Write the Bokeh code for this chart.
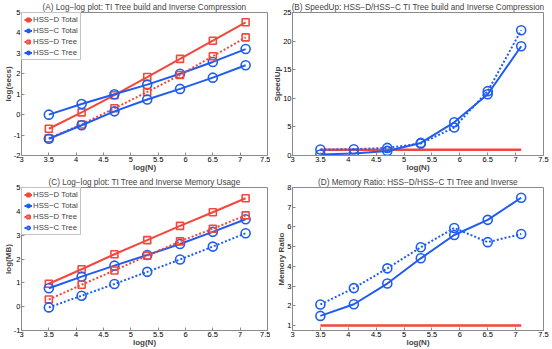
from bokeh.plotting import figure
from bokeh.models import Range1d, FixedTicker
from bokeh.layouts import gridplot
from bokeh.embed import file_html
from bokeh.resources import INLINE

# ---------------- data ----------------
logN = [3.5, 4.1, 4.7, 5.3, 5.9, 6.5, 7.1]
x_ticks = [3, 3.5, 4, 4.5, 5, 5.5, 6, 6.5, 7, 7.5]
x_tick_labels = ["3", "3.5", "4", "4.5", "5", "5.5", "6", "6.5", "7", "7.5"]

# (A) log(secs)
a_d_total = [-0.69, 0.11, 0.95, 1.84, 2.73, 3.62, 4.52]
a_c_total = [0.0, 0.52, 1.0, 1.47, 2.0, 2.58, 3.21]
a_d_tree = [-1.16, -0.48, 0.31, 1.11, 1.94, 2.86, 3.78]
a_c_tree = [-1.18, -0.52, 0.16, 0.74, 1.26, 1.81, 2.42]
a_yticks = [-2, -1, 0, 1, 2, 3, 4, 5]
a_ylabels = ["-2", "-1", "0", "1", "2", "3", "4", "5"]

# (B) speedup
b_total = [0.17, 0.35, 0.8, 2.2, 5.8, 10.7, 19.1]
b_tree = [1.04, 1.1, 1.33, 2.1, 4.9, 11.25, 21.9]
b_ref = [1, 1, 1, 1, 1, 1, 1]
b_yticks = [0, 5, 10, 15, 20, 25]
b_ylabels = ["0", "5", "10", "15", "20", "25"]

# (C) log(MB)
c_d_total = [0.96, 1.57, 2.2, 2.79, 3.39, 3.96, 4.55]
c_c_total = [0.77, 1.26, 1.72, 2.17, 2.63, 3.14, 3.67]
c_d_tree = [0.3, 0.92, 1.52, 2.14, 2.74, 3.27, 3.83]
c_c_tree = [-0.03, 0.46, 0.95, 1.46, 1.98, 2.52, 3.08]
c_yticks = [-1, 0, 1, 2, 3, 4, 5]
c_ylabels = ["-1", "0", "1", "2", "3", "4", "5"]

# (D) memory ratio
d_total = [1.49, 2.08, 3.13, 4.41, 5.59, 6.36, 7.48]
d_tree = [2.07, 2.9, 3.9, 4.97, 5.95, 5.23, 5.64]
d_ref = [1, 1, 1, 1, 1, 1, 1]
d_yticks = [1, 2, 3, 4, 5, 6, 7, 8]
d_ylabels = ["1", "2", "3", "4", "5", "6", "7", "8"]

RED = "#F4473C"
BLUE = "#1F5CF0"
FRAME = "#8a8a8a"
FONT = "Liberation Sans"


def make(title, ylabel, yr, yticks, ylabels, w, h, ml, mr, mt, mb):
    p = figure(width=w, height=h, x_range=Range1d(3, 7.5), y_range=Range1d(*yr),
               output_backend="svg", toolbar_location=None, title=title,
               min_border_left=ml, min_border_right=mr,
               min_border_top=mt, min_border_bottom=mb)
    p.title.text_font = FONT
    p.title.text_font_size = "8.2px"
    p.title.text_font_style = "normal"
    p.title.align = "center"
    p.title.standoff = 1
    p.grid.visible = False
    p.outline_line_color = FRAME
    p.outline_line_width = 1
    p.outline_line_alpha = 1
    p.xaxis.ticker = FixedTicker(ticks=x_ticks)
    p.xaxis.major_label_overrides = dict(zip(x_ticks, x_tick_labels))
    p.yaxis.ticker = FixedTicker(ticks=yticks)
    p.yaxis.major_label_overrides = dict(zip(yticks, ylabels))
    for ax in (p.xaxis, p.yaxis):
        ax.axis_line_color = FRAME
        ax.major_tick_in = 3
        ax.major_tick_out = 0
        ax.major_tick_line_color = FRAME
        ax.minor_tick_line_color = None
        ax.major_label_text_font = FONT
        ax.major_label_text_font_size = "7.5px"
        ax.major_label_text_color = "black"
        ax.major_label_standoff = 1
        ax.axis_label_text_font = FONT
        ax.axis_label_text_font_size = "8px"
        ax.axis_label_text_font_style = "bold"
        ax.axis_label_standoff = -2
    p.xaxis.axis_label = "log(N)"
    p.yaxis.axis_label = ylabel
    return p


def series(p, x, y, color, marker, dash, label=None):
    kw = {"legend_label": label} if label else {}
    p.line(x, y, line_color=color, line_width=2, line_dash=dash, **kw)
    size = 7 if marker == "square" else 9
    p.scatter(x, y, marker=marker, size=size, line_color=color, fill_color=None,
              line_width=1.6, **kw)


def style_legend(p):
    lg = p.legend[0]
    lg.location = "top_left"
    lg.margin = 0
    lg.padding = 2
    lg.spacing = 2
    lg.glyph_width = 8
    lg.glyph_height = 9
    lg.label_height = 9
    lg.label_standoff = 1
    lg.label_text_font = FONT
    lg.label_text_font_size = "7.8px"
    lg.border_line_color = FRAME
    lg.border_line_width = 1
    lg.background_fill_alpha = 1


W1, W2 = 270, 282
H1, H2 = 174, 175

pA = make("(A) Log\u2212log plot: TI Tree build and Inverse Compression", "log(secs)",
          (-2, 5), a_yticks, a_ylabels, W1, H1, 18, 3, 11, 19)
series(pA, logN, a_d_total, RED, "square", "solid", "HSS\u2212D Total")
series(pA, logN, a_c_total, BLUE, "circle", "solid", "HSS\u2212C Total")
series(pA, logN, a_d_tree, RED, "square", "2 2", "HSS\u2212D Tree")
series(pA, logN, a_c_tree, BLUE, "circle", "solid", "HSS\u2212C Tree")
style_legend(pA)

pB = make("(B) SpeedUp: HSS\u2212D/HSS\u2212C TI Tree build and Inverse Compression", "SpeedUp",
          (0, 25), b_yticks, b_ylabels, W2, H1, 21, 9, 12, 19)
pB.line(logN, b_ref, line_color=RED, line_width=2.5)
series(pB, logN, b_tree, BLUE, "circle", "2 2")
series(pB, logN, b_total, BLUE, "circle", "solid")

pC = make("(C) Log\u2212log plot: TI Tree and Inverse Memory Usage", "log(MB)",
          (-1, 5), c_yticks, c_ylabels, W1, H2, 18, 3, 12, 16)
series(pC, logN, c_d_total, RED, "square", "solid", "HSS\u2212D Total")
series(pC, logN, c_c_total, BLUE, "circle", "solid", "HSS\u2212C Total")
series(pC, logN, c_d_tree, RED, "square", "2 2", "HSS\u2212D Tree")
series(pC, logN, c_c_tree, BLUE, "circle", "2 2", "HSS\u2212C Tree")
style_legend(pC)

pD = make("(D) Memory Ratio: HSS\u2212D/HSS\u2212C TI Tree and Inverse", "Memory Ratio",
          (0.75, 8), d_yticks, d_ylabels, W2, H2, 21, 9, 13, 16)
pD.line(logN, d_ref, line_color=RED, line_width=2.5)
series(pD, logN, d_tree, BLUE, "circle", "2 2")
series(pD, logN, d_total, BLUE, "circle", "solid")

grid = gridplot([[pA, pB], [pC, pD]], toolbar_location=None)

open("out.html", "w").write(file_html(grid, INLINE))
